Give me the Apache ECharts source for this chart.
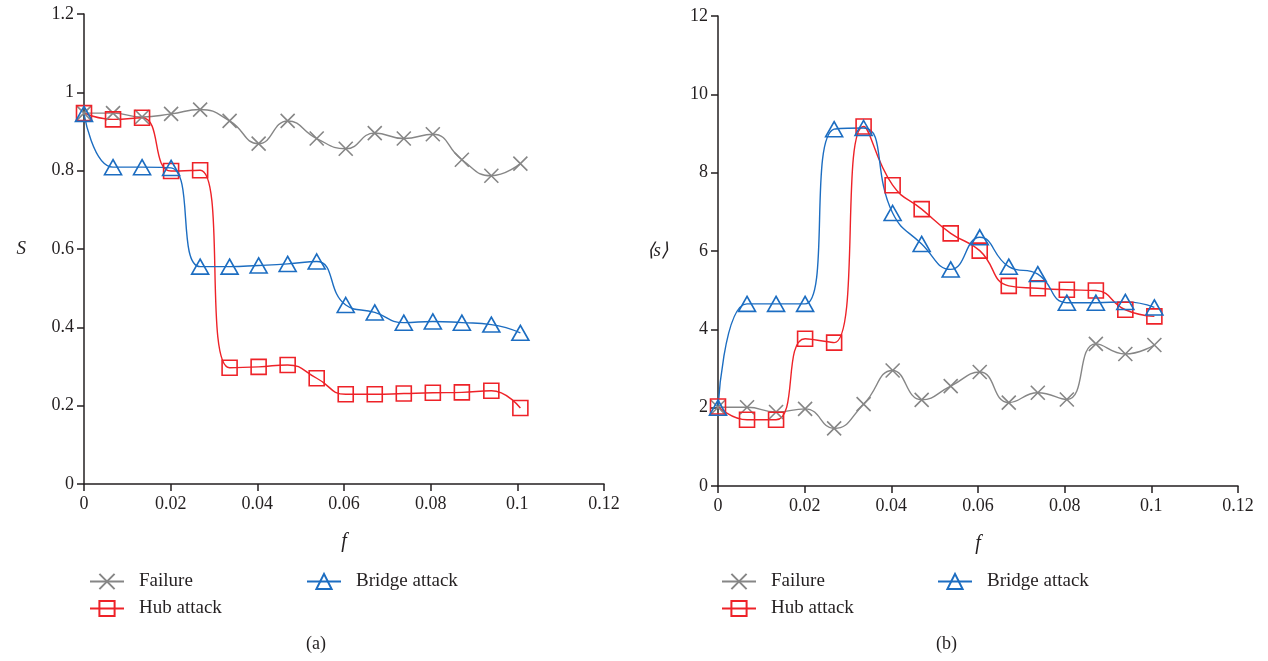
<!DOCTYPE html>
<html>
<head>
<meta charset="utf-8">
<script src="https://cdn.jsdelivr.net/npm/echarts@6/dist/echarts.min.js"></script>
<style>
  html, body { margin: 0; padding: 0; background: #fff; }
  #chart { width: 1268px; height: 661px; }
</style>
</head>
<body>
<div id="chart"></div>
<script>
// ---- data ----
var f = [0, 0.0067, 0.0134, 0.0201, 0.0268, 0.0336, 0.0403, 0.047, 0.0537, 0.0604, 0.0671, 0.0738, 0.0805, 0.0872, 0.094, 0.1007];

var failureS = [0.947, 0.947, 0.937, 0.945, 0.956, 0.927, 0.869, 0.927, 0.882, 0.856, 0.896, 0.882, 0.893, 0.828, 0.787, 0.818];
var hubS     = [0.947, 0.931, 0.935, 0.799, 0.801, 0.297, 0.299, 0.304, 0.270, 0.229, 0.229, 0.231, 0.233, 0.234, 0.238, 0.194];
var bridgeS  = [0.945, 0.809, 0.809, 0.807, 0.555, 0.555, 0.558, 0.562, 0.568, 0.457, 0.438, 0.412, 0.415, 0.412, 0.407, 0.386];

var failureMean = [2.01, 2.01, 1.89, 1.97, 1.47, 2.09, 2.95, 2.20, 2.55, 2.91, 2.13, 2.38, 2.21, 3.63, 3.37, 3.60];
var hubMean     = [2.03, 1.69, 1.69, 3.76, 3.66, 9.18, 7.68, 7.07, 6.45, 6.01, 5.11, 5.05, 5.01, 4.99, 4.50, 4.33];
var bridgeMean  = [2.00, 4.65, 4.65, 4.65, 9.11, 9.14, 6.97, 6.18, 5.53, 6.35, 5.60, 5.41, 4.68, 4.68, 4.70, 4.56];

var seriesNames = ['Failure', 'Hub attack', 'Bridge attack'];
var xTicks = [0, 0.02, 0.04, 0.06, 0.08, 0.1, 0.12];
var yTicksLeft = [0, 0.2, 0.4, 0.6, 0.8, 1, 1.2];
var yTicksRight = [0, 2, 4, 6, 8, 10, 12];
var panelLabels = ['(a)', '(b)'];
var yNames = ['S', '\u27E8s\u27E9'];
var xName = 'f';

// ---- styling ----
var FONT = 'Liberation Serif';
var TXT = '#231f20';
var GRAY = '#868686';
var RED = '#ee2228';
var BLUE = '#1c6dc1';
var X_PATH = 'path://M0,0L10,10M10,0L0,10';

function pairs(ys) { return ys.map(function (y, i) { return [f[i], y]; }); }

function xAxis(gi) {
  return {
    gridIndex: gi, type: 'value', min: 0, max: 0.12, interval: 0.02,
    name: xName, nameLocation: 'middle', nameGap: 48,
    nameTextStyle: { fontFamily: FONT, fontStyle: 'italic', fontSize: 20, color: TXT },
    axisLine: { lineStyle: { color: TXT, width: 1.5 } },
    axisTick: { show: true, length: 7, lineStyle: { color: TXT, width: 1.5 } },
    axisLabel: { fontFamily: FONT, fontSize: 18, color: TXT, margin: 11,
      formatter: function (v) { return String(+v.toFixed(2)); } },
    splitLine: { show: false }
  };
}
function yAxis(gi, max, interval, name, gap) {
  return {
    gridIndex: gi, type: 'value', min: 0, max: max, interval: interval,
    name: name, nameLocation: 'middle', nameGap: gap, nameRotate: 0,
    nameTextStyle: { fontFamily: FONT, fontStyle: 'italic', fontSize: 19, color: TXT },
    axisLine: { show: true, lineStyle: { color: TXT, width: 1.5 } },
    axisTick: { show: true, length: 7, lineStyle: { color: TXT, width: 1.5 } },
    axisLabel: { fontFamily: FONT, fontSize: 18, color: TXT, margin: 10,
      formatter: function (v) { return String(+v.toFixed(2)); } },
    splitLine: { show: false }
  };
}

function mkSeries(name, gi, ys) {
  var color = name === 'Failure' ? GRAY : (name === 'Hub attack' ? RED : BLUE);
  var symbol = name === 'Failure' ? X_PATH : (name === 'Hub attack' ? 'rect' : 'triangle');
  var size = name === 'Failure' ? 14 : (name === 'Hub attack' ? 15 : [17, 15]);
  return {
    name: name, type: 'line', xAxisIndex: gi, yAxisIndex: gi,
    data: pairs(ys), smooth: 0.5,
    symbol: symbol, symbolSize: size, showAllSymbol: true,
    lineStyle: { color: color, width: 1.4 },
    itemStyle: { color: 'rgba(255,255,255,0)', borderColor: color, borderWidth: 1.6 },
    emphasis: { disabled: true },
    animation: false
  };
}

function legendBlock(names, left, top) {
  return {
    data: names, orient: 'vertical', left: left, top: top,
    itemWidth: 34, itemHeight: 19, itemGap: 8,
    textStyle: { fontFamily: FONT, fontSize: 19, color: TXT, padding: [0, 0, 0, 10] },
    selectedMode: false
  };
}

var chart = echarts.init(document.getElementById('chart'), null, { renderer: 'canvas' });
chart.setOption({
  backgroundColor: '#fff',
  animation: false,
  grid: [
    { left: 84, top: 14, width: 520, height: 470 },
    { left: 718, top: 16, width: 520, height: 470 }
  ],
  xAxis: [xAxis(0), xAxis(1)],
  yAxis: [yAxis(0, 1.2, 0.2, yNames[0], 58), yAxis(1, 12, 2, yNames[1], 50)],
  legend: [
    legendBlock(['Failure', 'Hub attack'], 84, 567),
    legendBlock(['Bridge attack'], 301, 567),
    legendBlock(['Failure', 'Hub attack'], 716, 567),
    legendBlock(['Bridge attack'], 932, 567)
  ],
  graphic: [
    { type: 'text', left: 306, top: 635, style: { text: panelLabels[0], font: '18px "' + FONT + '"', fill: TXT } },
    { type: 'text', left: 936, top: 635, style: { text: panelLabels[1], font: '18px "' + FONT + '"', fill: TXT } }
  ],
  series: [
    mkSeries('Failure', 0, failureS),
    mkSeries('Hub attack', 0, hubS),
    mkSeries('Bridge attack', 0, bridgeS),
    mkSeries('Failure', 1, failureMean),
    mkSeries('Hub attack', 1, hubMean),
    mkSeries('Bridge attack', 1, bridgeMean)
  ]
});
</script>
</body>
</html>
